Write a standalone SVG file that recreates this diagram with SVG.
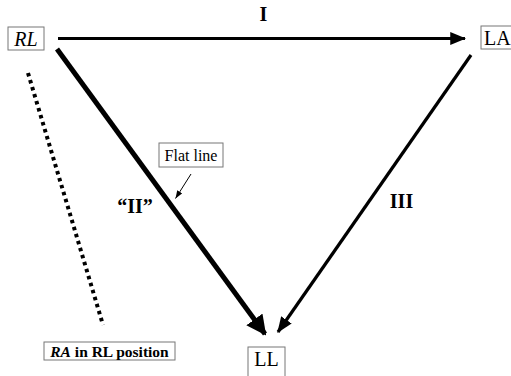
<svg xmlns="http://www.w3.org/2000/svg" width="511" height="376" viewBox="0 0 511 376" font-family="'Liberation Serif', 'Times New Roman', 'DejaVu Serif', serif">
<style>
  text { font-family: 'Liberation Serif', 'Times New Roman', 'DejaVu Serif', serif; fill: #000; }
  .box { fill: #fff; stroke: #777; stroke-width: 1; }
  .lbl { font-size: 20px; }
  .bold { font-weight: bold; }
  .edge { fill: none; stroke: #000; }
</style>
<defs>
  <marker id="ah" markerWidth="5" markerHeight="4" refX="4.6" refY="2" orient="auto" markerUnits="strokeWidth">
    <path d="M0,0 L5,2 L0,4 Z" fill="#000"/>
  </marker>
  <marker id="ah2" markerWidth="4" markerHeight="4" refX="3.6" refY="2" orient="auto" markerUnits="strokeWidth">
    <path d="M0,0 L4,2 L0,4 Z" fill="#000"/>
  </marker>
  <marker id="sa" markerWidth="8" markerHeight="6" refX="8" refY="3" orient="auto" markerUnits="userSpaceOnUse">
    <path d="M0,0 L8,3 L0,6 Z" fill="#000"/>
  </marker>
</defs>
<g id="connectors">
  <line class="edge" x1="58" y1="38.5" x2="465" y2="38.5" stroke-width="3.2" marker-end="url(#ah)"/>
  <line class="edge" x1="57" y1="49" x2="265" y2="334" stroke-width="5" marker-end="url(#ah2)"/>
  <line class="edge" x1="471" y1="55" x2="278" y2="332" stroke-width="3.2" marker-end="url(#ah)"/>
  <line class="edge" x1="28" y1="73" x2="103" y2="325" stroke-width="4" stroke-dasharray="3.5 3.8"/>
  <line class="edge" x1="191" y1="174" x2="175.5" y2="198.5" stroke-width="1" marker-end="url(#sa)"/>
</g>
<g id="RL">
  <rect class="box" x="8" y="27" width="36" height="23"/>
  <text class="lbl" x="26" y="45.5" text-anchor="middle" font-style="italic">RL</text>
</g>
<g id="LA">
  <rect class="box" x="481" y="26" width="40" height="23"/>
  <text class="lbl" x="484" y="44.5">LA</text>
</g>
<g id="LL">
  <rect class="box" x="248" y="347" width="37" height="35"/>
  <text class="lbl" x="266.5" y="366" text-anchor="middle">LL</text>
</g>
<g id="flatline">
  <rect class="box" x="159" y="143" width="64" height="24"/>
  <text x="191" y="160.5" font-size="16" text-anchor="middle">Flat line</text>
</g>
<g id="ra-note">
  <rect class="box" x="44" y="342" width="131" height="18"/>
  <text x="109.5" y="356.5" font-size="15.5" class="bold" text-anchor="middle"><tspan font-style="italic">RA</tspan> in RL position</text>
</g>
<g id="labels">
  <text x="263.5" y="21" font-size="20" class="bold" text-anchor="middle">I</text>
  <text x="135" y="213" font-size="20" class="bold" text-anchor="middle">“II”</text>
  <text x="401.5" y="208" font-size="20" class="bold" text-anchor="middle">III</text>
</g>
</svg>
